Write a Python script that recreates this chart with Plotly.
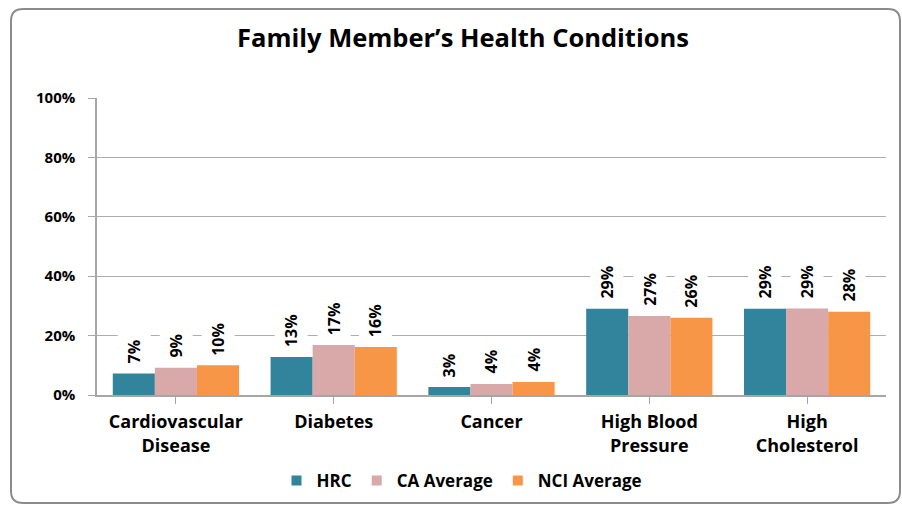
import plotly.graph_objects as go

categories = ["Cardiovascular<br>Disease", "Diabetes", "Cancer", "High Blood<br>Pressure", "High<br>Cholesterol"]
series_names = ["HRC", "CA Average", "NCI Average"]
hrc = [0.072, 0.128, 0.027, 0.29, 0.29]
ca_avg = [0.092, 0.168, 0.037, 0.266, 0.291]
nci_avg = [0.10, 0.162, 0.044, 0.26, 0.28]
labels_hrc = ["7%", "13%", "3%", "29%", "29%"]
labels_ca = ["9%", "17%", "4%", "27%", "29%"]
labels_nci = ["10%", "16%", "4%", "26%", "28%"]
tick_vals = [0, 0.2, 0.4, 0.6, 0.8, 1.0]
tick_text = ["0%", "20%", "40%", "60%", "80%", "100%"]

colors = ["#31849B", "#D9A8A8", "#F79646"]
FONT = "Open Sans"

W, H = 902, 506
L, R, T, B = 97, 16, 98, 111
pw, ph = W - L - R, H - T - B

fig = go.Figure()
all_vals = [hrc, ca_avg, nci_avg]
all_labels = [labels_hrc, labels_ca, labels_nci]
for name, vals, col in zip(series_names, all_vals, colors):
    fig.add_trace(go.Bar(x=list(range(len(categories))), y=vals, name=name, showlegend=False,
                         marker=dict(color=col, line=dict(width=0))))
# legend entries with small square markers
for name, col in zip(series_names, colors):
    fig.add_trace(go.Scatter(x=[None], y=[None], mode="markers", name=name,
                             marker=dict(symbol="square", size=10, color=col)))

# data labels
bw = 0.8 / 3
for j, (vals, labs) in enumerate(zip(all_vals, all_labels)):
    for i, (v, t) in enumerate(zip(vals, labs)):
        fig.add_annotation(x=i + (j - 1) * bw, y=v, text=t, textangle=-90,
                           showarrow=False, yanchor="bottom", xanchor="center",
                           yshift=4, bgcolor="white", borderpad=5,
                           font=dict(family=FONT, size=16, color="black", weight="bold"))

def px2paper(x, y):
    return (x - L) / pw, (H - B - y) / ph

# rounded border
x0, y0, x1, y1, r = 11, 9, 900, 503, 12
def P(x, y):
    a, b = px2paper(x, y)
    return f"{a:.5f},{b:.5f}"
path = (f"M {P(x0 + r, y0)} L {P(x1 - r, y0)} Q {P(x1, y0)} {P(x1, y0 + r)} "
        f"L {P(x1, y1 - r)} Q {P(x1, y1)} {P(x1 - r, y1)} "
        f"L {P(x0 + r, y1)} Q {P(x0, y1)} {P(x0, y1 - r)} "
        f"L {P(x0, y0 + r)} Q {P(x0, y0)} {P(x0 + r, y0)} Z")
fig.add_shape(type="path", path=path, xref="paper", yref="paper",
              line=dict(color="#8C8C8C", width=2), layer="below")

fig.update_layout(
    width=W, height=H,
    margin=dict(l=L, r=R, t=T, b=B, autoexpand=False),
    paper_bgcolor="white", plot_bgcolor="white",
    bargap=0.2, bargroupgap=0,
    title=dict(text="Family Member’s Health Conditions", x=463 / W, xanchor="center",
               y=1 - 38 / H, yanchor="middle",
               font=dict(family=FONT, size=25.5, color="black", weight="bold")),
    showlegend=True,
    legend=dict(orientation="h", x=(462 - L) / pw, xanchor="center", y=(H - B - 481) / ph,
                yanchor="middle", font=dict(family=FONT, size=17, color="black", weight="bold"),
                itemwidth=30, traceorder="normal", bgcolor="rgba(0,0,0,0)"),
    font=dict(family=FONT, color="black"),
)
fig.update_xaxes(tickmode="array", tickvals=list(range(len(categories))), ticktext=categories,
                 range=[-0.5, len(categories) - 0.5],
                 showline=True, linecolor="#A6A6A6", linewidth=1.5,
                 ticks="outside", ticklen=7, tickcolor="#A6A6A6",
                 showgrid=False, ticklabelstandoff=3,
                 tickfont=dict(family=FONT, size=18, color="black", weight="bold"))
fig.update_xaxes(tickson="boundaries")
fig.update_yaxes(range=[0, 1.0], tickvals=tick_vals, ticktext=tick_text,
                 showgrid=True, gridcolor="#ADADAD", gridwidth=1,
                 showline=True, linecolor="#A6A6A6", linewidth=1.5,
                 ticks="outside", ticklen=7, tickcolor="#A6A6A6", ticklabelstandoff=10,
                 tickfont=dict(family=FONT, size=15, color="black", weight="bold"),
                 zeroline=False)

fig.write_html("out.html", config={"displayModeBar": False},
               post_script="document.body.style.margin='0';document.body.style.overflow='hidden';")
